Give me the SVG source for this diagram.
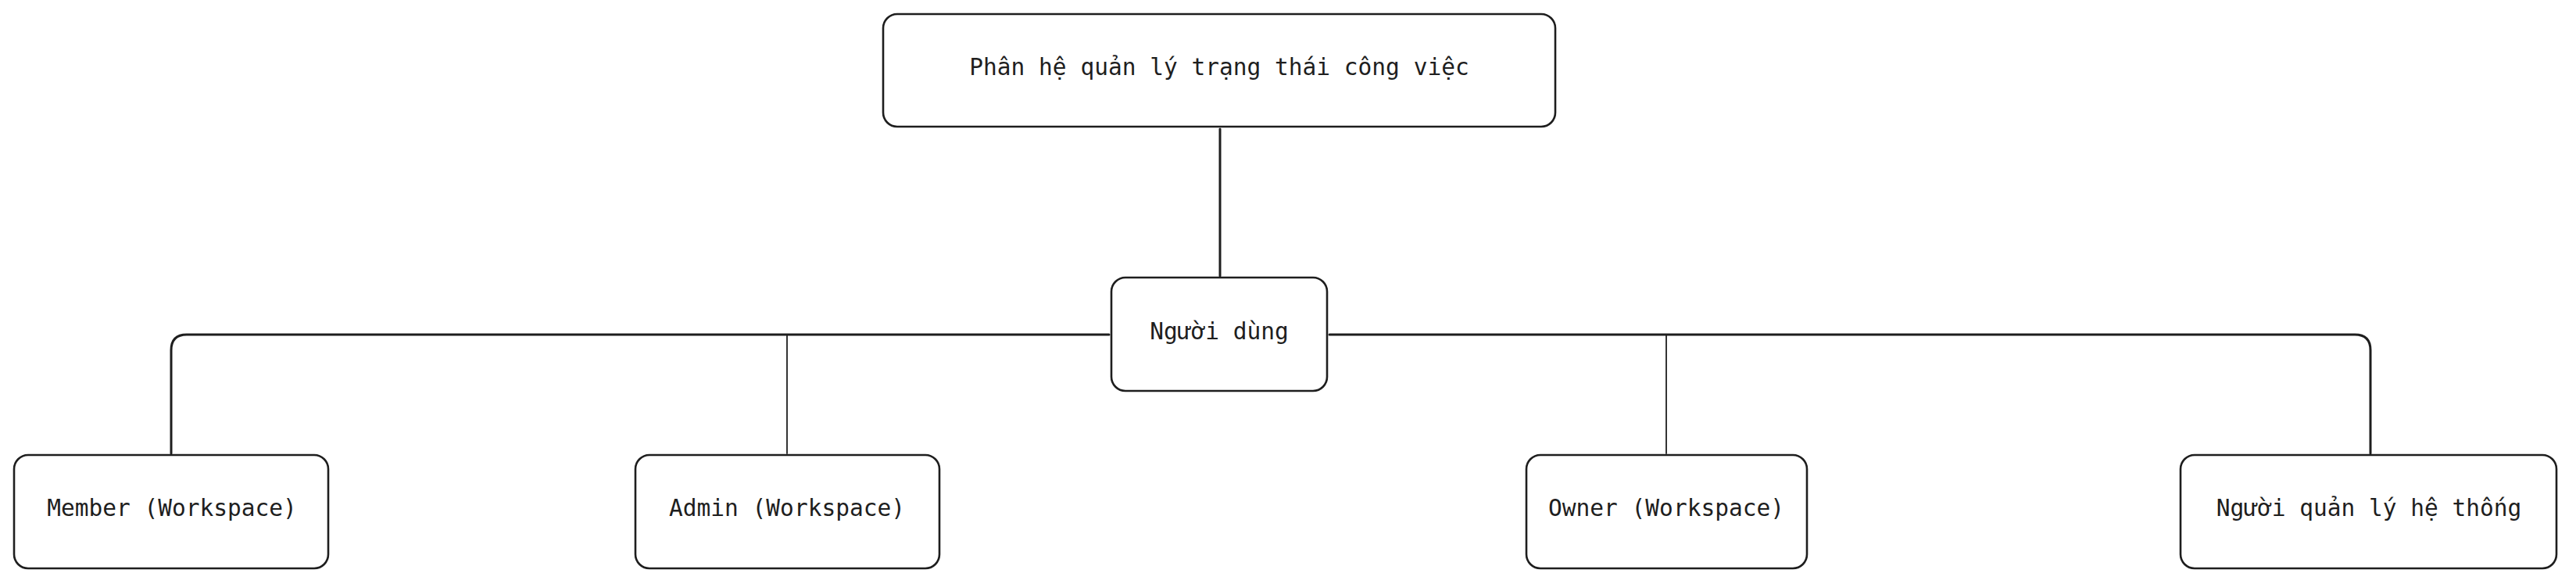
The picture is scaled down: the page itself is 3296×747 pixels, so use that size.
<svg xmlns="http://www.w3.org/2000/svg" width="3296" height="747" viewBox="0 0 3296 747">
<style>
.box{fill:#fff;stroke:#1e1e1e;stroke-width:2.6}
.lbl{font-family:"DejaVu Sans Mono","Liberation Mono",monospace;font-size:29.5px;fill:#1e1e1e;text-anchor:middle;dominant-baseline:central}
.c{fill:none;stroke:#1e1e1e;stroke-linecap:round}
.thick{stroke-width:3}
.thin{stroke-width:1.8}
</style>
<rect width="3296" height="747" fill="#fff"/>
<g id="connectors">
<path class="c thick" d="M1561 165 L1561 353"/>
<path class="c thick" d="M1419 428 L239 428 Q219 428 219 448 L219 580"/>
<path class="c thick" d="M1701 428 L3013 428 Q3033 428 3033 448 L3033 580"/>
<path class="c thin" d="M1007 428 L1007 580"/>
<path class="c thin" d="M2132 428 L2132 580"/>
</g>
<g id="node-root">
<rect class="box" x="1130" y="18" width="860" height="144" rx="18"/>
<text class="lbl" x="1560" y="86">Phân hệ quản lý trạng thái công việc</text>
</g>
<g id="node-user">
<rect class="box" x="1422" y="355" width="276" height="145" rx="18"/>
<text class="lbl" x="1560" y="424">Người dùng</text>
</g>
<g id="node-member">
<rect class="box" x="18" y="582" width="402" height="145" rx="18"/>
<text class="lbl" x="220" y="650">Member (Workspace)</text>
</g>
<g id="node-admin">
<rect class="box" x="813" y="582" width="389" height="145" rx="18"/>
<text class="lbl" x="1007" y="650">Admin (Workspace)</text>
</g>
<g id="node-owner">
<rect class="box" x="1953" y="582" width="359" height="145" rx="18"/>
<text class="lbl" x="2132" y="650">Owner (Workspace)</text>
</g>
<g id="node-sysadmin">
<rect class="box" x="2790" y="582" width="481" height="145" rx="18"/>
<text class="lbl" x="3031" y="650">Người quản lý hệ thống</text>
</g>
</svg>
